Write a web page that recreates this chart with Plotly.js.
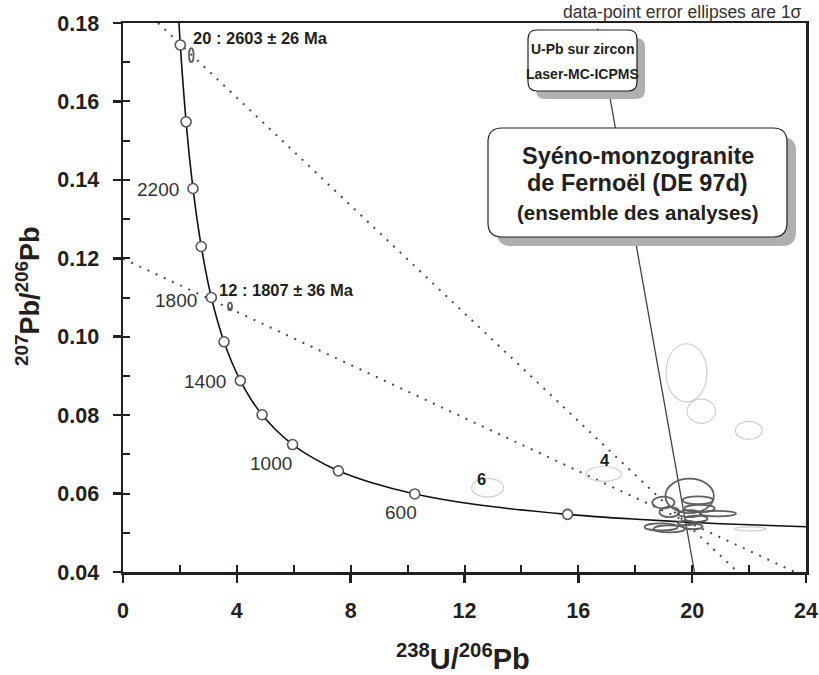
<!DOCTYPE html>
<html>
<head>
<meta charset="utf-8">
<script src="https://cdn.plot.ly/plotly-3.0.1.min.js"></script>
<style>html,body{margin:0;padding:0;background:#fff;}#chart{width:819px;height:675px;}</style>
</head>
<body>
<div id="chart"></div>
<script>
// Concordia curve (Tera-Wasserburg), ages in Ma
const concAge = [2700, 2600, 2500, 2400, 2300, 2200, 2100, 2000, 1900, 1800, 1700, 1600, 1500, 1400, 1300, 1200, 1100, 1000, 900, 800, 700, 600, 500, 400, 350, 300, 250];
const concX = [1.922, 2.013, 2.111, 2.217, 2.332, 2.459, 2.597, 2.749, 2.918, 3.105, 3.314, 3.550, 3.817, 4.123, 4.475, 4.888, 5.375, 5.959, 6.674, 7.568, 8.718, 10.252, 12.399, 15.62, 17.92, 20.99, 25.29];
const concY = [0.1852, 0.1744, 0.1643, 0.1548, 0.1460, 0.1378, 0.1302, 0.1230, 0.1163, 0.1100, 0.1042, 0.0987, 0.0936, 0.0888, 0.0843, 0.0801, 0.0762, 0.0725, 0.0691, 0.0658, 0.0628, 0.0599, 0.0572, 0.0547, 0.0535, 0.0523, 0.0512];
const markerAges = [2600, 2400, 2200, 2000, 1800, 1600, 1400, 1200, 1000, 800, 600, 400];
const labelAges = [2200, 1800, 1400, 1000, 600];

// Discordia lines (dotted) and reference line
const disc1X = [1.23, 21.6];
const disc1Y = [0.18, 0.04];
const disc2X = [0.0, 23.6];
const disc2Y = [0.1199, 0.04];
const refLineX = [16.68, 20.08];
const refLineY = [0.1786, 0.04];

// Data-point error ellipses (1 sigma): centre, semi-axes
const ellX  = [2.40, 3.76, 12.81, 16.89, 19.80, 20.32, 21.99, 22.04, 19.91, 18.99, 20.20, 19.20, 20.26, 20.90, 19.91, 20.14, 18.91, 19.20, 20.02, 19.79];
const ellY  = [0.1718, 0.1077, 0.0615, 0.0650, 0.0908, 0.0810, 0.0761, 0.0510, 0.0594, 0.0577, 0.0583, 0.0553, 0.0562, 0.0549, 0.0549, 0.0536, 0.0515, 0.0510, 0.0516, 0.0525];
const ellRX = [0.08, 0.07, 0.56, 0.62, 0.72, 0.50, 0.47, 0.55, 0.85, 0.39, 0.53, 0.35, 0.53, 0.64, 0.41, 0.40, 0.58, 0.55, 0.35, 0.30];
const ellRY = [0.0018, 0.0010, 0.0024, 0.0019, 0.0074, 0.0031, 0.0023, 0.0005, 0.0044, 0.0015, 0.0010, 0.0013, 0.0009, 0.0007, 0.0009, 0.0008, 0.0009, 0.0009, 0.0007, 0.0006];
const ellTone = ['dark','dark','light','light','light','light','light','light','dark','dark','dark','dark','dark','dark','dark','dark','dark','dark','dark','dark'];

const ink = '#231f20';
const sans = "'Liberation Sans', Arial, sans-serif";

const mIdx = markerAges.map(a => concAge.indexOf(a));
const traces = [
  {x: disc1X, y: disc1Y, mode: 'lines', line: {color: '#4a4a4a', width: 2, dash: '2px,7px'}, hoverinfo: 'skip'},
  {x: disc2X, y: disc2Y, mode: 'lines', line: {color: '#4a4a4a', width: 2, dash: '2px,7px'}, hoverinfo: 'skip'},
  {x: refLineX, y: refLineY, mode: 'lines', line: {color: '#444', width: 1.3}, hoverinfo: 'skip'},
  {x: concX, y: concY, mode: 'lines', line: {color: '#111', width: 1.6, shape: 'spline', smoothing: 0.6}, hoverinfo: 'skip'},
  {x: mIdx.map(i => concX[i]), y: mIdx.map(i => concY[i]), mode: 'markers',
   marker: {symbol: 'circle', size: 10, color: '#fff', line: {color: '#555', width: 1.6}}, hoverinfo: 'skip'},
  {x: [], y: [], xaxis: 'x2', yaxis: 'y2', mode: 'markers', hoverinfo: 'skip'}
];

// pixel -> paper helpers for the boxes
const L = 123, T = 23, W = 683, H = 549;
const px = v => (v - L) / W;
const py = v => (T + H - v) / H;
function roundRect(x0, y0, x1, y1, r) {
  const a = px(x0), b = px(x1), c = py(y0), d = py(y1);
  const rx = r / W, ry = r / H;
  return `M ${a+rx},${c} L ${b-rx},${c} Q ${b},${c} ${b},${c-ry} L ${b},${d+ry} Q ${b},${d} ${b-rx},${d} L ${a+rx},${d} Q ${a},${d} ${a},${d+ry} L ${a},${c-ry} Q ${a},${c} ${a+rx},${c} Z`;
}

const shapes = [];
ellX.forEach((cx, i) => {
  const dark = ellTone[i] === 'dark';
  shapes.push({type: 'circle', xref: 'x', yref: 'y', x0: cx - ellRX[i], x1: cx + ellRX[i], y0: ellY[i] - ellRY[i], y1: ellY[i] + ellRY[i],
    line: {color: dark ? '#5f5f5f' : '#cfcfcf', width: dark ? 1.8 : 1.2}, fillcolor: 'rgba(0,0,0,0)', layer: 'above'});
});
// shadows + boxes
shapes.push({type: 'path', xref: 'paper', yref: 'paper', path: roundRect(536, 38, 645, 99, 9), fillcolor: '#b0b0b0', line: {width: 0}, layer: 'above'});
shapes.push({type: 'path', xref: 'paper', yref: 'paper', path: roundRect(528, 30, 637, 91, 9), fillcolor: '#fff', line: {color: ink, width: 1.2}, layer: 'above'});
shapes.push({type: 'path', xref: 'paper', yref: 'paper', path: roundRect(497, 137, 796, 246, 14), fillcolor: '#b0b0b0', line: {width: 0}, layer: 'above'});
shapes.push({type: 'path', xref: 'paper', yref: 'paper', path: roundRect(488, 128, 787, 237, 14), fillcolor: '#fff', line: {color: ink, width: 1.2}, layer: 'above'});

const annotations = [];
// age labels on concordia
labelAges.forEach(a => {
  const i = concAge.indexOf(a);
  const below = a <= 1000;
  annotations.push({x: concX[i], y: concY[i], xref: 'x', yref: 'y', text: String(a), showarrow: false,
    xanchor: below ? 'center' : 'right', yanchor: 'middle',
    xshift: below ? (a === 1000 ? -22 : -14) : -12, yshift: below ? -19 : (a === 1800 ? -3 : -1),
    font: {family: sans, size: 19, color: '#333'}});
});
const mk = (x, y, text, size, opts) => Object.assign({x: x, y: y, xref: 'paper', yref: 'paper', text: text, showarrow: false,
  xanchor: 'center', yanchor: 'middle', font: {family: sans, size: size, color: ink, weight: 'bold'}}, opts || {});
annotations.push(
  {x: 2.40, y: 0.1761, xref: 'x', yref: 'y', text: '20 : 2603 ± 26 Ma', showarrow: false, xanchor: 'left', yanchor: 'middle',
   font: {family: sans, size: 16.5, color: ink, weight: 'bold'}},
  {x: 3.31, y: 0.1118, xref: 'x', yref: 'y', text: '12 : 1807 ± 36 Ma', showarrow: false, xanchor: 'left', yanchor: 'middle',
   font: {family: sans, size: 16.5, color: ink, weight: 'bold'}},
  {x: 12.59, y: 0.0637, xref: 'x', yref: 'y', text: '6', showarrow: false, font: {family: sans, size: 16.5, color: ink, weight: 'bold'}},
  {x: 16.93, y: 0.0685, xref: 'x', yref: 'y', text: '4', showarrow: false, font: {family: sans, size: 16.5, color: ink, weight: 'bold'}},
  mk(px(804), py(12), 'data-point error ellipses are 1σ', 17.5, {xanchor: 'right', font: {family: sans, size: 17.5, color: '#333'}}),
  mk(px(582.5), py(49), 'U-Pb sur zircon', 14),
  mk(px(582.5), py(74), 'Laser-MC-ICPMS', 14),
  mk(px(637.5), py(156), 'Syéno-monzogranite', 23.5),
  mk(px(637.5), py(183), 'de Fernoël (DE 97d)', 23.5),
  mk(px(637.5), py(212), '(ensemble des analyses)', 20.5),
  mk(px(463), py(657), '<sup>238</sup>U/<sup>206</sup>Pb', 29),
  mk(px(28), py(296), '<sup>207</sup>Pb/<sup>206</sup>Pb', 27, {textangle: -90})
);

const baseAxis = {showgrid: false, zeroline: false, showline: true, linecolor: ink, linewidth: 2.5, mirror: true,
  ticks: 'outside', ticklen: 8, tickwidth: 2.5, tickcolor: ink,
  tickfont: {family: sans, size: 21.5, color: ink, weight: 'bold'}};

const layout = {
  width: 819, height: 675,
  margin: {l: L, r: 819 - L - W, t: T, b: 675 - T - H},
  paper_bgcolor: '#fff', plot_bgcolor: '#fff',
  showlegend: false,
  xaxis: Object.assign({}, baseAxis, {range: [0, 24], tick0: 0, dtick: 4, ticklabelstandoff: 10}),
  yaxis: Object.assign({}, baseAxis, {range: [0.04, 0.18], tick0: 0.04, dtick: 0.02, tickformat: '.2f', ticklabelstandoff: 9}),
  xaxis2: {overlaying: 'x', anchor: 'y', range: [0, 24], tick0: 0, dtick: 2, ticks: 'inside', ticklen: 7, tickwidth: 2, tickcolor: ink,
    showticklabels: false, showgrid: false, zeroline: false, showline: false},
  yaxis2: {overlaying: 'y', anchor: 'x', range: [0.04, 0.18], tick0: 0.04, dtick: 0.01, ticks: 'inside', ticklen: 7, tickwidth: 2, tickcolor: ink,
    showticklabels: false, showgrid: false, zeroline: false, showline: false},
  shapes: shapes,
  annotations: annotations
};

Plotly.newPlot('chart', traces, layout, {staticPlot: true});
</script>
</body>
</html>
